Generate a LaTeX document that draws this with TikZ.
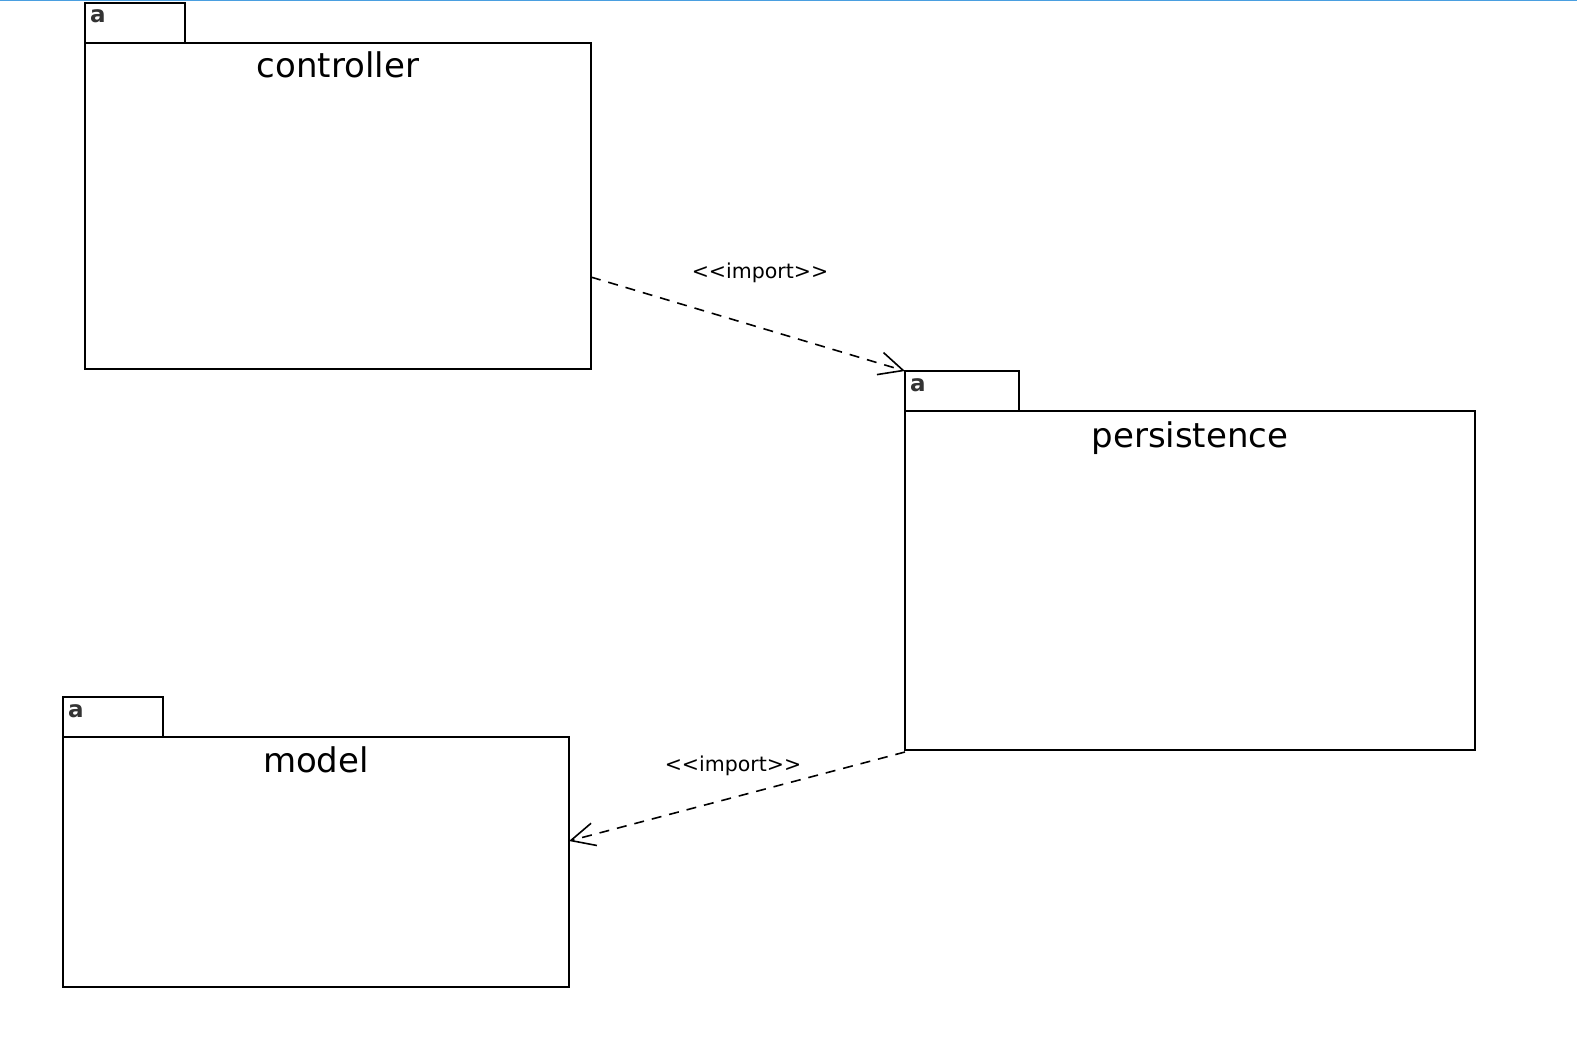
\documentclass[tikz,border=0pt]{standalone}
\usepackage{fontspec}
\setmainfont{DejaVu Sans}
\usetikzlibrary{arrows.meta,calc}
\definecolor{topblue}{HTML}{4A9FE0}
\begin{document}
\begin{tikzpicture}[x=1pt,y=-1pt,
  pkg/.style={draw=black, line width=1.6pt, fill=white, rectangle, inner sep=0pt, outer sep=0pt, anchor=north west},
  pkgtitle/.style={font=\fontsize{34}{40}\selectfont, inner sep=0pt, anchor=base},
  tabtext/.style={font=\fontsize{23}{28}\selectfont\bfseries, inner sep=0pt, anchor=base west, text=black!80},
  dep/.style={line width=1.6pt, dash pattern=on 10pt off 8pt, -{Straight Barb[length=24pt,width=23pt]}},
  lbl/.style={font=\fontsize{20.5}{24}\selectfont, inner sep=0pt, anchor=base}]
\useasboundingbox (0,0) rectangle (1577,1046);
\fill[white] (0,0) rectangle (1577,1046);
\draw[topblue, line width=1.5pt] (0,0.75) -- (1577,0.75);

% controller
\node[pkg, minimum width=100pt, minimum height=40pt] (ctrltab) at (85,3) {};
\node[pkg, minimum width=506pt, minimum height=326pt] (ctrl) at (85,43) {};
\node[tabtext] (ctrla) at ([xshift=5pt,yshift=-20pt]ctrltab.north west) {a};
\node[pkgtitle] (ctrlname) at ([yshift=-35pt]ctrl.north) {controller};

% persistence
\node[pkg, minimum width=114pt, minimum height=40pt] (perstab) at (905,371) {};
\node[pkg, minimum width=570pt, minimum height=339pt] (pers) at (905,411) {};
\node[tabtext] (persa) at ([xshift=5pt,yshift=-20pt]perstab.north west) {a};
\node[pkgtitle] (persname) at ([yshift=-36pt]pers.north) {persistence};

% model
\node[pkg, minimum width=100pt, minimum height=40pt] (modeltab) at (63,697) {};
\node[pkg, minimum width=506pt, minimum height=250pt] (model) at (63,737) {};
\node[tabtext] (modela) at ([xshift=5pt,yshift=-20pt]modeltab.north west) {a};
\node[pkgtitle] (modelname) at ([yshift=-35pt]model.north) {model};

% dependencies
\coordinate (d1s) at ($(ctrl.north east)!0.718!(ctrl.south east)$);
\draw[dep] (d1s) -- (perstab.north west);
\node[lbl] (l1) at (760,278) {<{}<import>{}>};

\coordinate (d2e) at ($(model.north east)!0.416!(model.south east)$);
\draw[dep] ([yshift=-2pt]pers.south west) -- (d2e);
\node[lbl] (l2) at (733,771) {<{}<import>{}>};
\end{tikzpicture}
\end{document}
